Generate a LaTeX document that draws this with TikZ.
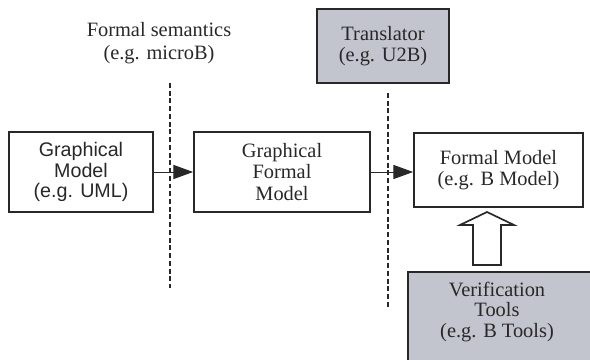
\documentclass[tikz,border=0pt]{standalone}
\usepackage{fontspec}
\setmainfont{Liberation Serif}
\setsansfont{Liberation Sans}
\usetikzlibrary{positioning}
\usetikzlibrary{calc}
\usetikzlibrary{arrows.meta}
\definecolor{toolgray}{RGB}{194,196,206}
\definecolor{ink}{RGB}{40,40,40}
\tikzset{
  box/.style={draw=ink, line width=1.2pt, align=center, text=ink, font=\fontsize{14.5}{15}\selectfont},
  toolbox/.style={box, fill=toolgray},
  note/.style={align=center, text=ink, font=\fontsize{14.5}{16}\selectfont},
  sep/.style={draw=ink, line width=1.6pt, dash pattern=on 3.5pt off 2pt},
  flow/.style={draw=ink, line width=0.6pt, -{Triangle[length=14pt,width=10pt]}},
  hollow/.style={draw=ink, fill=white, line width=1.2pt, line join=miter},
}

\begin{document}
\begin{tikzpicture}[x=0.025cm,y=-0.025cm]
\clip (0,0) rectangle (590,360);

\node[box, font=\sffamily\fontsize{14}{14.5}\selectfont, minimum width=3.6cm, minimum height=2cm](gm) at (81,172){Graphical\\Model\\(e.g. UML)};
\node[box, minimum width=4.4cm, minimum height=2cm](gfm) at (282,172){Graphical\\Formal\\Model};
\node[box, minimum width=4.225cm, minimum height=1.85cm](fm) at (498.5,170){Formal Model\\(e.g. B Model)};
\node[toolbox, minimum width=3.3cm, minimum height=1.85cm](trans) at (383,46){Translator\\(e.g. U2B)};
\node[note](sem) at (159,43){Formal semantics\\(e.g. microB)};

\node[toolbox, anchor=north west, minimum width=5cm, minimum height=2.5cm](verbox) at (407,271){};
\node[note, font=\fontsize{14.5}{14.5}\selectfont](ver) at (497,312){Verification\\Tools\\(e.g. B Tools)};

\coordinate (semtop) at (170,83);
\coordinate (sembot) at (170,288);
\coordinate (trtop) at (388,93);
\coordinate (trbot) at (388,308);
\coordinate (tip) at (487,212);

\path[sep] (semtop) -- (sembot);
\path[sep] (trtop) -- (trbot);

\path
(gm.east) edge[flow] (gm.east -| gfm.west)
(gfm.east) edge[flow] (gfm.east -| fm.west);

% hollow arrow from the tools up to the model
\draw[hollow] (tip) -- ++(27,13) -- ++(-13,0) -- ++(0,40) -- ++(-28,0) -- ++(0,-40) -- ++(-13,0) -- cycle;
\end{tikzpicture}
\end{document}
